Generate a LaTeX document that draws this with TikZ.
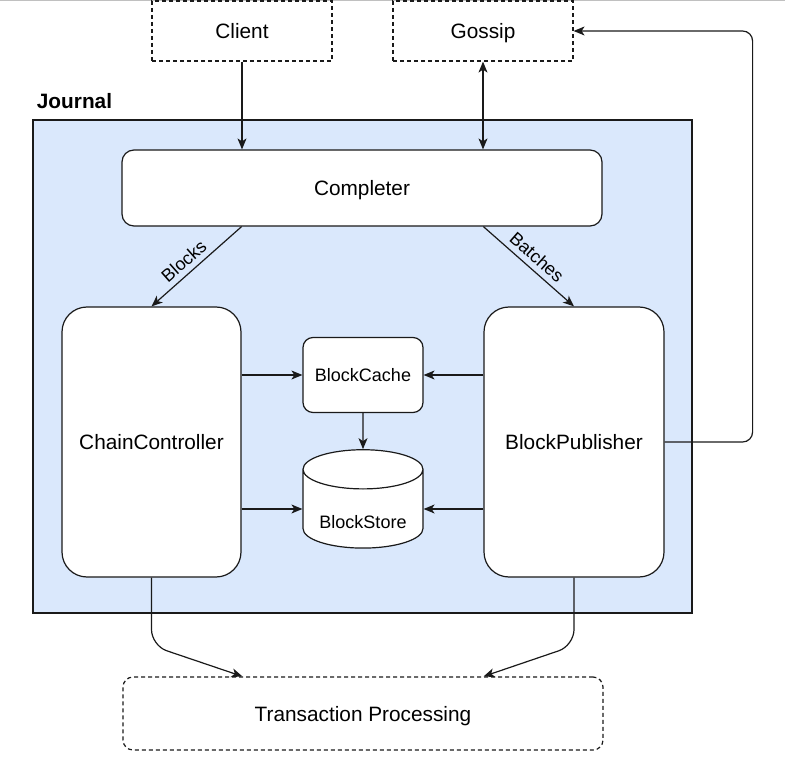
\documentclass[tikz,border=0pt]{standalone}
\usepackage{fontspec}
\setmainfont{Liberation Sans}
\usepackage{tikz}
\usetikzlibrary{positioning, arrows.meta, calc, shapes.geometric}
\usepackage{xcolor}
\definecolor{jrnlBlue}{HTML}{DAE8FC}
\definecolor{jrnlLine}{HTML}{1A1A1A}
\definecolor{jrnlTop}{HTML}{C0C0C0}

\begin{document}
\begin{tikzpicture}[x=1pt, y=-1pt, line width=1.2pt,
    font=\fontsize{20.8}{24}\selectfont,
    caja/.style={draw=jrnlLine, fill=white, rounded corners=#1, inner sep=0pt, text depth=0pt},
    externa/.style={draw=jrnlLine, dash pattern=on 4pt off 3pt, inner sep=0pt, text depth=0pt},
    flecha/.style={-{Stealth[length=11pt, width=9pt, inset=3pt]}, draw=jrnlLine},
    chico/.style={font=\fontsize{18}{21}\selectfont}]
  \useasboundingbox (0,0) rectangle (785,767);
  \draw[jrnlTop, line width=1pt] (0,0.5) -- (785,0.5);
  % Contenedor del Journal
  \node[draw=jrnlLine, fill=jrnlBlue, minimum width=659pt, minimum height=493pt, inner sep=0pt] (journal) at (362.5,366.5) {};
  \node[anchor=west, font=\fontsize{20.8}{24}\selectfont\bfseries] (jtitle) at (33,101) {Journal};
  % Externos
  \node[externa, minimum width=180pt, minimum height=60pt] (client) at (242,31) {Client};
  \node[externa, minimum width=180pt, minimum height=60pt] (gossip) at (483,31) {Gossip};
  \node[externa, rounded corners=10pt, minimum width=480pt, minimum height=73pt] (tp) at (363,713.5) {Transaction Processing};
  % Componentes internos
  \node[caja=12pt, minimum width=480pt, minimum height=76pt] (completer) at (362,188) {Completer};
  \node[caja=25pt, minimum width=179pt, minimum height=270pt] (chain) at (151.5,442) {ChainController};
  \node[caja=25pt, minimum width=180pt, minimum height=270pt] (publisher) at (574,442) {BlockPublisher};
  \node[caja=10pt, chico, minimum width=120pt, minimum height=75pt] (cache) at (363,375) {BlockCache};
  \node[cylinder, shape border rotate=90, aspect=0.45, draw=jrnlLine, fill=white, chico, inner sep=0pt,
        minimum width=120pt, minimum height=88pt, text height=39pt, text depth=0pt] (store) at (363,509) {BlockStore};
  % Conexiones
  \draw[flecha] (client.south) -- (client.south |- completer.north);
  \draw[flecha, {Stealth[length=11pt, width=9pt, inset=3pt]}-{Stealth[length=11pt, width=9pt, inset=3pt]}] (gossip.south) -- (gossip.south |- completer.north);
  \draw[flecha] (completer.south -| chain.east) -- node[sloped, above=2pt, chico, pos=0.55] {Blocks} (chain.north);
  \draw[flecha] (completer.south -| publisher.west) -- node[sloped, above=2pt, chico, pos=0.5] {Batches} (publisher.north);
  \draw[flecha] (chain.east |- cache.west) -- (cache.west);
  \draw[flecha] (chain.east |- store.west) -- (store.west);
  \draw[flecha] (publisher.west |- cache.east) -- (cache.east);
  \draw[flecha] (publisher.west |- store.east) -- (store.east);
  \draw[flecha] (cache.south) -- (store.north);
  \draw[flecha, rounded corners=10pt] (publisher.east) -- ++(88,0) |- (gossip.east);
  \draw[flecha, rounded corners=16pt] (chain.south) -- ++(0,68) -- ($(tp.north west)+(120,0)$);
  \draw[flecha, rounded corners=16pt] (publisher.south) -- ++(0,68) -- ($(tp.north east)+(-120,0)$);
\end{tikzpicture}
\end{document}
